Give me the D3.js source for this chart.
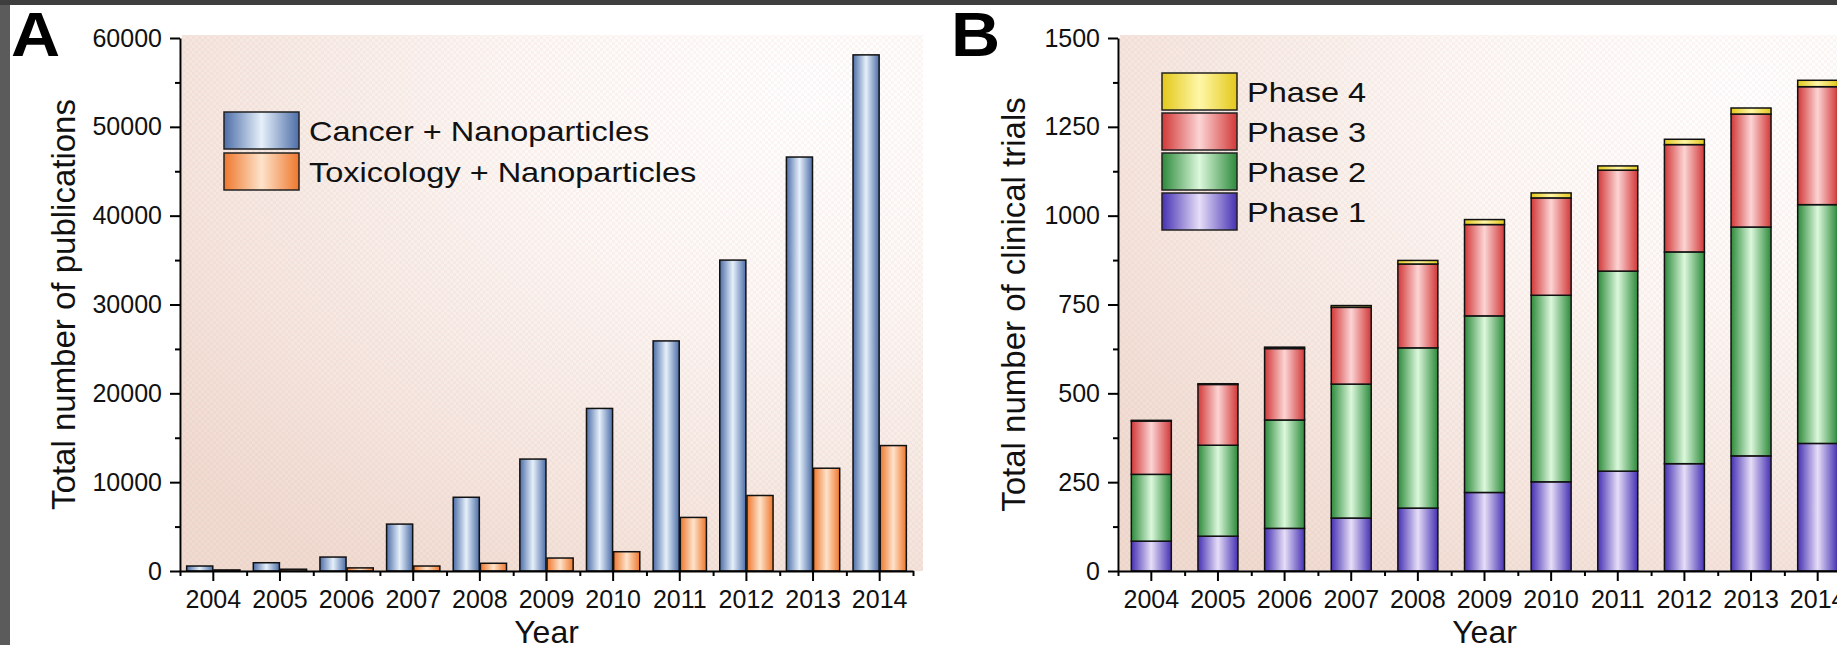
<!DOCTYPE html>
<html>
<head>
<meta charset="utf-8">
<script src="https://cdn.jsdelivr.net/npm/d3@7"></script>
<style>
  body { margin: 0; padding: 0; background: #5b5b5b; }
  svg { display: block; font-family: "Liberation Sans", Arial, sans-serif; }
</style>
</head>
<body>
<script>
// ---- data ----
const years = [2004, 2005, 2006, 2007, 2008, 2009, 2010, 2011, 2012, 2013, 2014];

const cancer     = [560, 930, 1570, 5280, 8300, 12600, 18300, 25900, 35000, 46600, 58100];
const toxicology = [120, 200, 350, 560, 870, 1460, 2170, 6030, 8500, 11570, 14120];

const phase1 = [84, 98, 120, 149, 177, 221, 251, 281, 302, 324, 359];
const phase2 = [188, 256, 305, 377, 451, 497, 525, 563, 596, 644, 672];
const phase3 = [150, 171, 201, 216, 236, 257, 274, 284, 302, 318, 332];
const phase4 = [2, 2, 4, 5, 10, 14, 14, 12, 15, 17, 18];

const pubTicks = [0, 10000, 20000, 30000, 40000, 50000, 60000];
const trialTicks = [0, 250, 500, 750, 1000, 1250, 1500];

const pubSeries = [
  {key: 'cancer', label: 'Cancer + Nanoparticles', values: cancer, dark: '#4d6ea8', light: '#e6f0fa'},
  {key: 'tox', label: 'Toxicology + Nanoparticles', values: toxicology, dark: '#ef772c', light: '#fde3cb'}
];
const phaseSeries = [
  {key: 'p1', label: 'Phase 1', values: phase1, dark: '#4631b3', light: '#e6def7'},
  {key: 'p2', label: 'Phase 2', values: phase2, dark: '#2d8a3b', light: '#dcf8dc'},
  {key: 'p3', label: 'Phase 3', values: phase3, dark: '#d23838', light: '#fcd4d4'},
  {key: 'p4', label: 'Phase 4', values: phase4, dark: '#e3c81a', light: '#fff7a8'}
];

const W = 1837, H = 645;
const svg = d3.select('body').append('svg').attr('width', W).attr('height', H);
const defs = svg.append('defs');

// frame
svg.append('rect').attr('width', W).attr('height', H).attr('fill', '#5b5b5b');
svg.append('rect').attr('x', 10).attr('y', 5).attr('width', W - 10).attr('height', H - 5).attr('fill', '#fff');
svg.append('rect').attr('width', W).attr('height', 5).attr('fill', '#3e3e3e');

// gradients
[...pubSeries, ...phaseSeries].forEach(s => {
  const g = defs.append('linearGradient').attr('id', 'g-' + s.key)
    .attr('x1', 0).attr('x2', 1).attr('y1', 0).attr('y2', 0);
  g.append('stop').attr('offset', '0%').attr('stop-color', s.dark);
  g.append('stop').attr('offset', '50%').attr('stop-color', s.light);
  g.append('stop').attr('offset', '100%').attr('stop-color', s.dark);
});

const bg = defs.append('radialGradient').attr('id', 'bg')
  .attr('cx', 0.85).attr('cy', 0.1).attr('r', 1.1);
bg.append('stop').attr('offset', '0%').attr('stop-color', '#ffffff');
bg.append('stop').attr('offset', '35%').attr('stop-color', '#fdf8f6');
bg.append('stop').attr('offset', '100%').attr('stop-color', '#f0dbd1');

const pat = defs.append('pattern').attr('id', 'chk')
  .attr('width', 6).attr('height', 6).attr('patternUnits', 'userSpaceOnUse');
pat.append('rect').attr('width', 3).attr('height', 3).attr('fill', '#b07a66').attr('opacity', 0.06);
pat.append('rect').attr('x', 3).attr('y', 3).attr('width', 3).attr('height', 3).attr('fill', '#b07a66').attr('opacity', 0.06);

const y0 = 571, yTop = 38;

function styleAxis(g) {
  g.selectAll('path.domain').attr('stroke', '#000').attr('stroke-width', 2);
  g.selectAll('.tick line').attr('stroke', '#000').attr('stroke-width', 2);
  g.selectAll('.tick text').attr('font-size', 25).attr('fill', '#111')
    .attr('font-family', '"Liberation Sans", Arial, sans-serif');
}

function panel(opt) {
  const x = d3.scaleBand().domain(years).range([opt.x0, opt.x1])
    .paddingInner(opt.pad).paddingOuter(opt.pad / 2);
  const y = d3.scaleLinear().domain([0, opt.max]).range([y0, yTop]);

  // plot background
  svg.append('rect').attr('x', opt.x0 + 2).attr('y', yTop - 3)
    .attr('width', opt.x1 - opt.x0 + 8).attr('height', y0 - yTop + 3).attr('fill', 'url(#bg)');
  svg.append('rect').attr('x', opt.x0 + 2).attr('y', yTop - 3)
    .attr('width', opt.x1 - opt.x0 + 8).attr('height', y0 - yTop + 3).attr('fill', 'url(#chk)');

  opt.drawBars(x, y);

  // minor ticks
  const xi = d3.scaleLinear().domain([0, years.length]).range([opt.x0, opt.x1]);
  svg.append('g').attr('transform', `translate(0,${y0})`)
    .call(d3.axisBottom(xi).tickValues(d3.range(years.length + 1)).tickSize(5).tickFormat(''))
    .call(g => g.select('.domain').remove())
    .call(styleAxis);
  svg.append('g').attr('transform', `translate(${opt.x0},0)`)
    .call(d3.axisLeft(y).tickValues(opt.ticks.slice(1).map((t, i) => (t + opt.ticks[i]) / 2)).tickSize(5).tickFormat(''))
    .call(g => g.select('.domain').remove())
    .call(styleAxis);

  // major axes
  svg.append('g').attr('transform', `translate(0,${y0})`)
    .call(d3.axisBottom(x).tickSize(10).tickSizeOuter(0).tickPadding(9))
    .call(styleAxis);
  svg.append('g').attr('transform', `translate(${opt.x0},0)`)
    .call(d3.axisLeft(y).tickValues(opt.ticks).tickSize(10).tickSizeOuter(0).tickPadding(8).tickFormat(d3.format('d')))
    .call(styleAxis);

  // titles
  svg.append('text').attr('transform', `translate(${opt.titleX},${(y0 + yTop) / 2}) rotate(-90)`)
    .attr('text-anchor', 'middle').attr('font-size', 33).attr('fill', '#111').text(opt.yTitle);
  svg.append('text').attr('x', (opt.x0 + opt.x1) / 2).attr('y', 643)
    .attr('text-anchor', 'middle').attr('font-size', 32).attr('fill', '#111').text('Year');
  svg.append('text').attr('transform', `translate(${opt.letterX},56) scale(1.08,1)`)
    .attr('font-size', 63).attr('font-weight', 'bold').attr('fill', '#000').text(opt.letter);

  // legend
  const lg = svg.append('g').attr('transform', `translate(${opt.legX},${opt.legY})`);
  const items = lg.selectAll('g').data(opt.legend).join('g')
    .attr('transform', (d, i) => `translate(0,${i * opt.legStep})`);
  items.append('rect').attr('width', opt.swW).attr('height', 37)
    .attr('fill', d => `url(#g-${d.key})`).attr('stroke', '#222').attr('stroke-width', 1.5);
  items.append('text')
    .attr('transform', `translate(${opt.swW + 10},18.5) scale(1.14,1)`)
    .attr('dy', '0.36em')
    .attr('font-size', 28.5).attr('fill', '#111').text(d => d.label);
}

// ---- panel A ----
panel({
  x0: 180, x1: 913, pad: 0.2, max: 60000, ticks: pubTicks,
  yTitle: 'Total number of publications', titleX: 75, letter: 'A', letterX: 11,
  legend: pubSeries, legX: 224, legY: 112, legStep: 41, swW: 75,
  drawBars(x, y) {
    const xs = d3.scaleBand().domain(pubSeries.map(s => s.key)).range([0, x.bandwidth()]).paddingInner(0.04);
    svg.append('g').selectAll('g').data(pubSeries).join('g')
      .attr('fill', s => `url(#g-${s.key})`)
      .selectAll('rect').data(s => s.values.map((v, i) => ({key: s.key, year: years[i], v})))
      .join('rect')
      .attr('x', d => x(d.year) + xs(d.key))
      .attr('width', xs.bandwidth())
      .attr('y', d => y(d.v))
      .attr('height', d => y0 - y(d.v))
      .attr('stroke', '#111').attr('stroke-width', 1.5);
  }
});

// ---- panel B ----
const table = years.map((yr, i) => {
  const row = {year: yr};
  phaseSeries.forEach(s => row[s.key] = s.values[i]);
  return row;
});
const stacked = d3.stack().keys(phaseSeries.map(s => s.key))(table);

panel({
  x0: 1118, x1: 1851, pad: 0.4, max: 1500, ticks: trialTicks,
  yTitle: 'Total number of clinical trials', titleX: 1025, letter: 'B', letterX: 951,
  legend: phaseSeries.slice().reverse(), legX: 1162, legY: 73, legStep: 40, swW: 75,
  drawBars(x, y) {
    svg.append('g').selectAll('g').data(stacked).join('g')
      .attr('fill', s => `url(#g-${s.key})`)
      .selectAll('rect').data(s => s)
      .join('rect')
      .attr('x', d => x(d.data.year))
      .attr('width', x.bandwidth())
      .attr('y', d => y(d[1]))
      .attr('height', d => y(d[0]) - y(d[1]))
      .attr('stroke', '#111').attr('stroke-width', 1.5);
  }
});
</script>
</body>
</html>
